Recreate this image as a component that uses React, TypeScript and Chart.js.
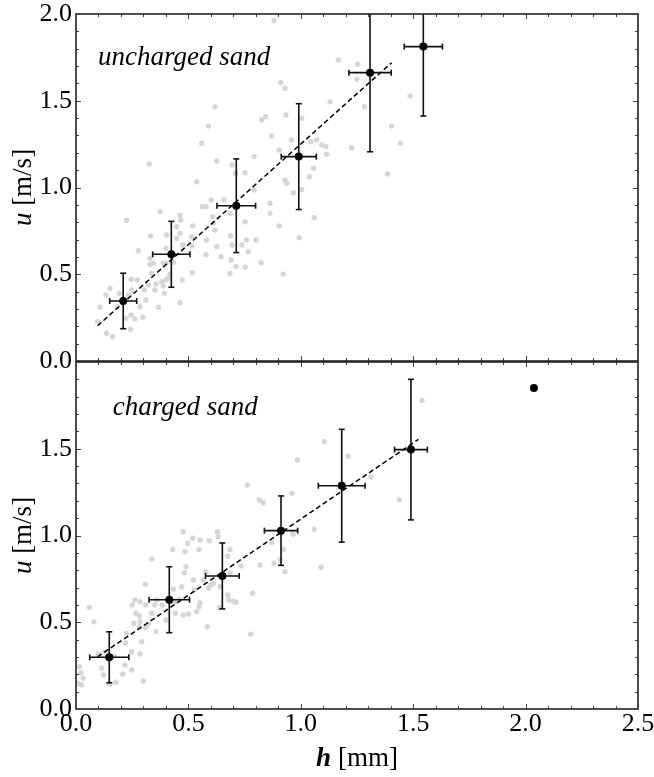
import React, { useEffect, useRef } from 'react';
import { Chart, registerables } from 'chart.js';

Chart.register(...registerables);

const SERIF = '"Liberation Serif", "Times New Roman", Times, serif';

// ---------- axis ranges / ticks ----------
const X_MIN = 0;
const X_MAX = 2.5;
const Y_MIN = 0;
const Y_MAX = 2.0;
const MAJOR_STEP = 0.5;
const MINOR_STEP = 0.1;

// ---------- top panel: uncharged sand ----------
const topLabel = 'uncharged sand';
const topMeanH = [0.21, 0.424, 0.713, 0.991, 1.308, 1.545];
const topMeanU = [0.346, 0.615, 0.895, 1.178, 1.662, 1.812];
const topErrH = [0.06, 0.083, 0.086, 0.078, 0.094, 0.085];
const topErrU = [0.16, 0.19, 0.27, 0.305, 0.456, 0.4];
const topFitH = [0.096, 1.404];
const topFitU = [0.203, 1.719];
const topCloud: [number, number][] = [
  [0.881, 1.961], [0.326, 1.135], [0.618, 1.466], [0.589, 1.354], [0.559, 1.255], [0.626, 1.153],
  [0.695, 1.13], [0.71, 1.082], [0.752, 1.085], [0.792, 1.178], [0.826, 1.389], [0.844, 1.408],
  [0.87, 1.297], [0.911, 1.604], [0.93, 1.572], [0.934, 1.418], [0.959, 1.274], [1.004, 1.399],
  [1.045, 1.264], [1.071, 1.274], [1.093, 1.245], [1.112, 1.235], [1.13, 1.495], [0.904, 1.216],
  [0.93, 1.043], [0.937, 1.024], [0.967, 0.97], [1.004, 0.989], [1.038, 1.062], [1.056, 1.111],
  [0.863, 0.909], [0.863, 0.851], [0.904, 0.778], [0.922, 0.501], [0.993, 0.711], [1.06, 0.826],
  [0.823, 0.567], [0.766, 0.63], [0.759, 0.697], [0.752, 0.803], [0.792, 0.986], [0.685, 0.851],
  [0.688, 0.722], [0.685, 0.505], [0.695, 0.669], [0.712, 0.544], [0.645, 0.601], [0.626, 0.659],
  [0.658, 0.928], [0.601, 0.928], [0.578, 0.889], [0.618, 0.755], [0.611, 0.794], [0.581, 0.697],
  [0.563, 0.889], [0.537, 1.033], [0.519, 0.778], [0.515, 0.716], [0.516, 0.663], [0.475, 0.669],
  [0.448, 0.707], [0.463, 0.736], [0.466, 0.813], [0.463, 0.841], [0.517, 0.509], [0.472, 0.467],
  [0.433, 0.569], [0.448, 0.774], [0.403, 0.726], [0.4, 0.65], [0.418, 0.501], [0.411, 0.477],
  [0.463, 0.336], [0.374, 0.861], [0.332, 0.72], [0.329, 0.592], [0.344, 0.563], [0.337, 0.505],
  [0.388, 0.563], [0.381, 0.457], [0.388, 0.432], [0.351, 0.409], [0.393, 0.39], [0.366, 0.31],
  [0.322, 0.438], [0.304, 0.409], [0.277, 0.636], [0.273, 0.467], [0.248, 0.409], [0.285, 0.313],
  [0.297, 0.252], [0.262, 0.242], [0.245, 0.265], [0.222, 0.246], [0.243, 0.183], [0.225, 0.81],
  [0.233, 0.38], [0.184, 0.313], [0.193, 0.39], [0.151, 0.419], [0.133, 0.38], [0.107, 0.31],
  [0.096, 0.227], [0.136, 0.16], [0.163, 0.14], [0.311, 0.352], [0.246, 0.471], [0.356, 0.444],
  [0.329, 0.557], [0.4, 0.563], [0.4, 0.467], [0.608, 0.832], [0.69, 0.582], [0.738, 0.669],
  [0.753, 0.54], [0.801, 0.697], [0.578, 0.613],
  [1.167, 1.735], [1.253, 1.71], [1.249, 1.624], [1.283, 1.466], [1.486, 1.527], [1.404, 1.354],
  [1.443, 1.255], [1.226, 1.229], [1.386, 1.078], [1.115, 1.191],
];
const topLabelAt: [number, number] = [0.098, 1.706];

// ---------- bottom panel: charged sand ----------
const botLabel = 'charged sand';
const botMeanH = [0.148, 0.415, 0.651, 0.912, 1.182, 1.49];
const botMeanU = [0.298, 0.63, 0.767, 1.028, 1.287, 1.495];
const botErrH = [0.087, 0.09, 0.075, 0.074, 0.104, 0.073];
const botErrU = [0.147, 0.19, 0.19, 0.2, 0.325, 0.405];
const botLoneH = [2.037];
const botLoneU = [1.85];
const botFitH = [0.096, 1.523];
const botFitU = [0.301, 1.554];
const botCloud: [number, number][] = [
  [1.105, 1.541], [0.985, 1.435], [0.762, 1.291], [0.816, 1.205], [0.833, 1.189], [0.96, 1.243],
  [1.06, 1.036], [1.09, 0.817], [0.881, 0.84], [0.93, 0.791], [0.922, 0.92], [0.87, 0.959],
  [0.967, 1.007], [0.786, 0.667], [0.777, 0.431], [0.712, 0.615], [0.685, 0.92], [0.675, 0.88],
  [0.629, 1.022], [0.633, 0.993], [0.593, 0.97], [0.552, 0.974], [0.519, 0.984], [0.477, 1.022],
  [0.485, 0.907], [0.43, 0.92], [0.547, 0.92], [0.489, 0.82], [0.482, 0.786], [0.47, 0.705],
  [0.522, 0.744], [0.526, 0.686], [0.566, 0.744], [0.589, 0.696], [0.611, 0.724], [0.675, 0.657],
  [0.68, 0.63], [0.7, 0.62], [0.638, 0.584], [0.584, 0.474], [0.548, 0.59], [0.537, 0.561],
  [0.5, 0.548], [0.477, 0.542], [0.437, 0.618], [0.46, 0.63], [0.433, 0.69], [0.383, 0.599],
  [0.359, 0.628], [0.35, 0.6], [0.337, 0.552], [0.31, 0.6], [0.285, 0.618], [0.262, 0.628],
  [0.25, 0.6], [0.308, 0.72], [0.337, 0.865], [0.267, 0.552], [0.285, 0.503], [0.258, 0.494],
  [0.322, 0.49], [0.31, 0.47], [0.356, 0.446], [0.292, 0.388], [0.285, 0.317], [0.225, 0.436],
  [0.248, 0.33], [0.248, 0.225], [0.218, 0.254], [0.208, 0.2], [0.17, 0.305], [0.129, 0.33],
  [0.099, 0.317], [0.114, 0.235], [0.122, 0.196], [0.151, 0.144], [0.178, 0.154], [0.3, 0.161],
  [0.059, 0.586], [0.08, 0.503], [0.015, 0.244], [0.022, 0.209], [0.032, 0.177], [0.01, 0.148],
  [0.025, 0.138], [0.497, 0.955], [0.734, 0.824], [0.578, 0.79], [0.6, 0.715], [0.641, 0.705],
  [0.686, 0.782], [0.552, 0.613], [0.442, 0.552], [0.4, 0.513], [0.282, 0.536], [0.282, 0.474],
  [0.22, 0.38],
  [1.539, 1.779], [1.211, 1.457], [1.312, 1.337], [1.438, 1.206], [0.964, 1.01], [0.818, 0.83],
  [0.909, 0.859],
];
const botLabelAt: [number, number] = [0.163, 1.693];

// ---------- helpers ----------
const fmt = (v: number) => Number(v).toFixed(1);

function buildDatasets(
  cloud: [number, number][],
  mh: number[], mu: number[], eh: number[], eu: number[],
  fitH: number[], fitU: number[],
  loneH: number[] = [], loneU: number[] = [],
) {
  const vErr: any[] = [];
  const hErr: any[] = [];
  mh.forEach((h, i) => {
    vErr.push({ x: h, y: mu[i] - eu[i] }, { x: h, y: mu[i] + eu[i] }, { x: h, y: null });
    hErr.push({ x: h - eh[i], y: mu[i] }, { x: h + eh[i], y: mu[i] }, { x: h, y: null });
  });
  const means = mh.map((h, i) => ({ x: h, y: mu[i] }))
    .concat(loneH.map((h, i) => ({ x: h, y: loneU[i] })));
  const errStyle = {
    type: 'line',
    borderColor: '#111',
    borderWidth: 1.6,
    pointStyle: 'line',
    pointRadius: 3,
    pointBorderWidth: 1.6,
    pointBorderColor: '#111',
    pointBackgroundColor: '#111',
    spanGaps: false,
    fill: false,
    tension: 0,
    clip: 0,
    order: 1,
  };
  return [
    {
      type: 'scatter',
      data: means,
      pointRadius: 4,
      pointBackgroundColor: '#000',
      pointBorderWidth: 0,
      order: 0,
    },
    { ...errStyle, data: vErr, pointRotation: 0 },
    { ...errStyle, data: hErr, pointRotation: 90 },
    {
      type: 'line',
      data: fitH.map((h, i) => ({ x: h, y: fitU[i] })),
      borderColor: '#000',
      borderWidth: 1.5,
      borderDash: [5, 3],
      pointRadius: 0,
      fill: false,
      order: 2,
    },
    {
      type: 'scatter',
      data: cloud.map(([h, u]) => ({ x: h, y: u })),
      pointRadius: 2.7,
      pointBackgroundColor: '#d6d6d6',
      pointBorderWidth: 0,
      order: 3,
    },
  ];
}

function drawRich(ctx: CanvasRenderingContext2D, parts: { text: string; font: string }[], cx: number, y: number) {
  const widths = parts.map((p) => { ctx.font = p.font; return ctx.measureText(p.text).width; });
  const total = widths.reduce((a, b) => a + b, 0);
  let x = cx - total / 2;
  ctx.textAlign = 'left';
  ctx.textBaseline = 'alphabetic';
  parts.forEach((p, i) => { ctx.font = p.font; ctx.fillText(p.text, x, y); x += widths[i]; });
}

const decorPlugin = {
  id: 'decor',
  afterDraw(chart: any, _args: any, opts: any) {
    const { ctx, chartArea: a, scales } = chart;
    const xs = scales.x;
    const ys = scales.y;
    ctx.save();
    // inward ticks on all four sides
    ctx.strokeStyle = '#444';
    ctx.lineWidth = 1;
    ctx.beginPath();
    const nx = Math.round((X_MAX - X_MIN) / MINOR_STEP);
    for (let i = 1; i < nx; i++) {
      const v = X_MIN + i * MINOR_STEP;
      const px = Math.round(xs.getPixelForValue(v)) + 0.5;
      const len = i % Math.round(MAJOR_STEP / MINOR_STEP) === 0 ? 5 : 3;
      ctx.moveTo(px, a.top); ctx.lineTo(px, a.top + len);
      ctx.moveTo(px, a.bottom); ctx.lineTo(px, a.bottom - len);
    }
    const ny = Math.round((Y_MAX - Y_MIN) / MINOR_STEP);
    for (let i = 1; i < ny; i++) {
      const v = Y_MIN + i * MINOR_STEP;
      const py = Math.round(ys.getPixelForValue(v)) + 0.5;
      const len = i % Math.round(MAJOR_STEP / MINOR_STEP) === 0 ? 5 : 3;
      ctx.moveTo(a.left, py); ctx.lineTo(a.left + len, py);
      ctx.moveTo(a.right, py); ctx.lineTo(a.right - len, py);
    }
    ctx.stroke();
    // frame
    ctx.strokeStyle = '#222';
    ctx.lineWidth = 1.6;
    ctx.strokeRect(a.left, a.top, a.right - a.left, a.bottom - a.top);
    // panel label
    ctx.fillStyle = '#000';
    ctx.font = `italic 27px ${SERIF}`;
    ctx.textAlign = 'left';
    ctx.textBaseline = 'alphabetic';
    ctx.fillText(opts.label, xs.getPixelForValue(opts.labelAt[0]), ys.getPixelForValue(opts.labelAt[1]));
    // y-axis title
    ctx.save();
    ctx.translate(a.left - 45, (a.top + a.bottom) / 2);
    ctx.rotate(-Math.PI / 2);
    drawRich(ctx, [
      { text: 'u', font: `italic 27px ${SERIF}` },
      { text: ' [m/s]', font: `27px ${SERIF}` },
    ], 0, 0);
    ctx.restore();
    // x-axis title
    if (opts.xTitle) {
      drawRich(ctx, [
        { text: 'h', font: `italic bold 27px ${SERIF}` },
        { text: ' [mm]', font: `27px ${SERIF}` },
      ], (a.left + a.right) / 2, a.bottom + 57);
    }
    ctx.restore();
  },
};

function makeConfig(kind: 'top' | 'bottom') {
  const isTop = kind === 'top';
  const datasets = isTop
    ? buildDatasets(topCloud, topMeanH, topMeanU, topErrH, topErrU, topFitH, topFitU)
    : buildDatasets(botCloud, botMeanH, botMeanU, botErrH, botErrU, botFitH, botFitU, botLoneH, botLoneU);
  const tickFont = { family: SERIF, size: 26 };
  return {
    type: 'scatter',
    data: { datasets },
    options: {
      responsive: false,
      animation: false,
      devicePixelRatio: 1,
      events: [],
      layout: {
        padding: isTop
          ? { top: 14, right: 16, bottom: 777 - 361, left: 0 }
          : { top: 362, right: 16, bottom: 0, left: 0 },
      },
      plugins: {
        legend: { display: false },
        tooltip: { enabled: false },
        decor: {
          label: isTop ? topLabel : botLabel,
          labelAt: isTop ? topLabelAt : botLabelAt,
          xTitle: !isTop,
        },
      },
      scales: {
        x: {
          type: 'linear',
          display: !isTop,
          min: X_MIN,
          max: X_MAX,
          grid: { display: false, drawTicks: false },
          border: { display: false },
          ticks: {
            stepSize: MAJOR_STEP,
            autoSkip: false,
            maxRotation: 0,
            padding: 0,
            color: '#000',
            font: tickFont,
            callback: (v: any) => fmt(v),
          },
          afterFit: (s: any) => {
            s.height = isTop ? 0 : 68;
            s.paddingLeft = 0;
            s.paddingRight = 0;
          },
        },
        y: {
          type: 'linear',
          min: Y_MIN,
          max: Y_MAX,
          grid: { display: false, drawTicks: false },
          border: { display: false },
          ticks: {
            stepSize: MAJOR_STEP,
            autoSkip: false,
            padding: 4,
            color: '#000',
            font: tickFont,
            callback: (v: any) => (!isTop && Math.abs(v - Y_MAX) < 1e-9 ? null : fmt(v)),
          },
          afterFit: (s: any) => {
            s.width = 76;
            s.paddingTop = 0;
            s.paddingBottom = 0;
          },
        },
      },
    },
    plugins: [decorPlugin],
  };
}

function Panel({ kind, z }: { kind: 'top' | 'bottom'; z: number }) {
  const ref = useRef<HTMLCanvasElement | null>(null);
  useEffect(() => {
    if (!ref.current) return;
    const chart = new Chart(ref.current, makeConfig(kind) as any);
    return () => chart.destroy();
  }, [kind]);
  return (
    <canvas
      ref={ref}
      width={654}
      height={777}
      style={{ position: 'absolute', left: 0, top: 0, width: 654, height: 777, zIndex: z, display: 'block' }}
    />
  );
}

export default function App() {
  return (
    <div style={{ position: 'absolute', left: 0, top: 0, width: 654, height: 777, background: '#fff' }}>
      <Panel kind="bottom" z={1} />
      <Panel kind="top" z={2} />
    </div>
  );
}
